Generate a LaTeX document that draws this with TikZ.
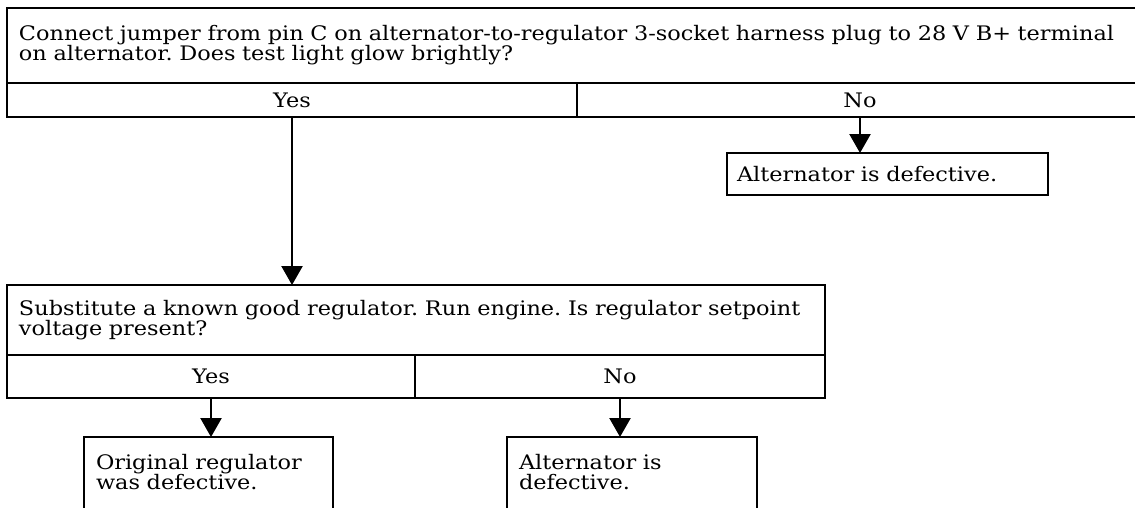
\documentclass[tikz,border=0pt]{standalone}
\usepackage{fontspec}
\setmainfont[FakeStretch=1.12]{DejaVu Serif}
\usetikzlibrary{arrows.meta}
\begin{document}
\frenchspacing
\begin{tikzpicture}[x=1pt, y=-1pt, line width=2.4pt,
            every node/.style={font=\fontsize{20}{20}\selectfont, inner sep=0pt, outer sep=0pt},
            qbox/.style={draw, anchor=north west, align=left, inner xsep=12pt},
            cell/.style={draw, anchor=north west},
            abox/.style={draw, anchor=north west, align=left, inner xsep=12pt, inner ysep=17pt, text depth=45pt},
            arr/.style={-{Triangle[length=19pt,width=21pt]}}]
            \useasboundingbox (0,0) rectangle (1135,507);

            \node[qbox, text width=1112pt, minimum height=75pt] (q1) at (7,8) {Connect jumper from pin C on alternator-to-regulator 3-socket harness plug to 28 V B+ terminal\\on alternator. Does test light glow brightly?};
            \node[cell, minimum width=570pt, minimum height=34pt] (yes1) at (q1.south west) {Yes};
            \node[cell, minimum width=566pt, minimum height=34pt] (no1) at (yes1.north east) {No};
            \node[draw, anchor=north west, align=left, inner xsep=10pt, text width=301pt, minimum height=42pt] (alt1) at (727,153) {Alternator is defective.};

            \node[qbox, text width=794pt, minimum height=70pt] (q2) at (7,285) {Substitute a known good regulator. Run engine. Is regulator setpoint\\voltage present?};
            \node[cell, minimum width=408pt, minimum height=43pt] (yes2) at (q2.south west) {Yes};
            \node[cell, minimum width=410pt, minimum height=43pt] (no2) at (yes2.north east) {No};
            \node[abox, text width=225pt] (reg2) at (84,437) {Original regulator\\was defective.};
            \node[abox, text width=226pt] (alt2) at (507,437) {Alternator is\\defective.};

            \draw[arr] (no1.south) -- (no1.south |- alt1.north);
            \draw[arr] (yes1.south) -- (yes1.south |- q2.north);
            \draw[arr] (yes2.south) -- (yes2.south |- reg2.north);
            \draw[arr] (no2.south) -- (no2.south |- alt2.north);
        \end{tikzpicture}
\end{document}
